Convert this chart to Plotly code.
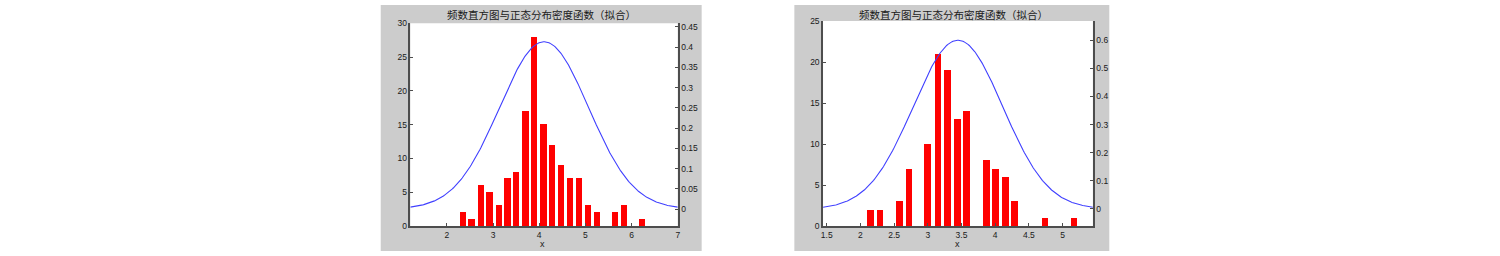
import numpy as np
import plotly.graph_objects as go

W, H = 1500, 256

# ---------------- data ----------------
title_text = "频数直方图与正态分布密度函数（拟合）"

# left chart
left_centers = [2.35, 2.54, 2.74, 2.93, 3.13, 3.32, 3.51, 3.71, 3.90, 4.10, 4.29,
                4.48, 4.68, 4.87, 5.07, 5.26, 5.45, 5.65, 5.84, 6.03, 6.23]
left_counts = [2, 1, 6, 5, 3, 7, 8, 17, 28, 15, 12, 9, 7, 7, 3, 2, 0, 2, 3, 0, 1]
left_mu, left_sigma = 4.105, 0.965
left_xticks = [2, 3, 4, 5, 6, 7]
left_y1ticks = [0, 5, 10, 15, 20, 25, 30]
left_y2ticks = [0, 0.05, 0.1, 0.15, 0.2, 0.25, 0.3, 0.35, 0.4, 0.45]
left_y2labels = ["0", "0.05", "0.1", "0.15", "0.2", "0.25", "0.3", "0.35", "0.4", "0.45"]

# right chart
right_centers = [2.15, 2.29, 2.43, 2.58, 2.72, 2.86, 3.00, 3.15, 3.29, 3.44, 3.58,
                 3.73, 3.87, 4.01, 4.15, 4.29, 4.44, 4.59, 4.74, 4.88, 5.02, 5.17]
right_counts = [2, 2, 0, 3, 7, 0, 10, 21, 19, 13, 14, 0, 8, 7, 6, 3, 0, 0, 1, 0, 0, 1]
right_mu, right_sigma = 3.448, 0.665
right_xticks = [1.5, 2, 2.5, 3, 3.5, 4, 4.5, 5]
right_xlabels = ["1.5", "2", "2.5", "3", "3.5", "4", "4.5", "5"]
right_y1ticks = [0, 5, 10, 15, 20, 25]
right_y2ticks = [0, 0.1, 0.2, 0.3, 0.4, 0.5, 0.6]
right_y2labels = ["0", "0.1", "0.2", "0.3", "0.4", "0.5", "0.6"]

# ---------------- layout geometry (pixels) ----------------
def px(x):
    return x / W

def py(y):
    return 1 - y / H

L = dict(x0=409.7, x1=678.0, top=19.0, bot=230.0, gx0=380, gx1=702,
         xrange=[1.21, 7.0], y2range=[-0.042, 0.459], y1range=[0, 30],
         tcx=541.5, xlx=542.7)
R = dict(x0=823.8, x1=1094.5, top=16.7, bot=230.0, gx0=795, gx1=1111,
         xrange=[1.446, 5.45], y2range=[-0.0605, 0.668], y1range=[0, 25],
         tcx=954.7, xlx=958.3)

GRAY = "#cccccc"
AXC = "#4d4d4d"
TXT = "#1a1a1a"
FONT = "Liberation Sans, Arial, sans-serif"
CJK = "Noto Sans CJK SC, sans-serif"

fig = go.Figure()

def pdf(x, mu, s):
    return np.exp(-0.5 * ((x - mu) / s) ** 2) / (s * np.sqrt(2 * np.pi))

panels = [
    (L, left_centers, left_counts, left_mu, left_sigma, 0.135, "x", "y", "y2"),
    (R, right_centers, right_counts, right_mu, right_sigma, 0.098, "x2", "y3", "y4"),
]

for P, cen, cnt, mu, sg, bw, xa, ya, ya2 in panels:
    fig.add_trace(go.Bar(x=cen, y=cnt, width=bw, marker=dict(color="#ff0000", line=dict(width=0)),
                         xaxis=xa, yaxis=ya, showlegend=False))
    xs = np.linspace(P["xrange"][0], P["xrange"][1], 300)
    fig.add_trace(go.Scatter(x=xs, y=pdf(xs, mu, sg), mode="lines",
                             line=dict(color="#4040ff", width=1.1),
                             xaxis=xa, yaxis=ya2, showlegend=False))

common_axis = dict(showgrid=False, zeroline=False, showline=True, linecolor=AXC, linewidth=1.5,
                   ticks="inside", ticklen=3, tickcolor=AXC, tickwidth=1,
                   tickfont=dict(family=FONT, size=8.5, color=TXT))

fig.update_layout(
    width=W, height=H, margin=dict(l=0, r=0, t=0, b=0),
    paper_bgcolor="white", plot_bgcolor="white", bargap=0,
    xaxis=dict(domain=[px(L["x0"]), px(L["x1"])], range=L["xrange"], anchor="y",
               tickvals=left_xticks, ticktext=[str(v) for v in left_xticks], **common_axis),
    yaxis=dict(domain=[py(L["bot"]), py(L["top"])], range=L["y1range"], anchor="x",
               tickvals=left_y1ticks, ticktext=[str(v) for v in left_y1ticks], **common_axis),
    yaxis2=dict(domain=[py(L["bot"]), py(L["top"])], range=L["y2range"], anchor="x",
                overlaying="y", side="right",
                tickvals=left_y2ticks, ticktext=left_y2labels, **common_axis),
    xaxis2=dict(domain=[px(R["x0"]), px(R["x1"])], range=R["xrange"], anchor="y3",
                tickvals=right_xticks, ticktext=right_xlabels, **common_axis),
    yaxis3=dict(domain=[py(R["bot"]), py(R["top"])], range=R["y1range"], anchor="x2",
                tickvals=right_y1ticks, ticktext=[str(v) for v in right_y1ticks], **common_axis),
    yaxis4=dict(domain=[py(R["bot"]), py(R["top"])], range=R["y2range"], anchor="x2",
                overlaying="y3", side="right",
                tickvals=right_y2ticks, ticktext=right_y2labels, **common_axis),
)

shapes = []
annotations = []
for P in (L, R):
    shapes.append(dict(type="rect", xref="paper", yref="paper", layer="below",
                       x0=px(P["gx0"]), x1=px(P["gx1"]), y0=0, y1=1,
                       fillcolor=GRAY, line=dict(width=0)))
    shapes.append(dict(type="rect", xref="paper", yref="paper", layer="below",
                       x0=px(P["x0"]), x1=px(P["x1"]), y0=py(P["bot"]), y1=py(P["top"]),
                       fillcolor="white", line=dict(width=0)))
    annotations.append(dict(text=title_text, xref="paper", yref="paper",
                            x=px(P["tcx"]), y=py(10), xanchor="center", yanchor="middle",
                            showarrow=False, font=dict(family=CJK, size=10.5, color=TXT)))
    annotations.append(dict(text="x", xref="paper", yref="paper",
                            x=px(P["xlx"]), y=py(248.5), xanchor="center", yanchor="middle",
                            showarrow=False, font=dict(family=FONT, size=9, color=TXT)))
fig.update_layout(shapes=shapes, annotations=annotations)

fig.write_html("out.html")
